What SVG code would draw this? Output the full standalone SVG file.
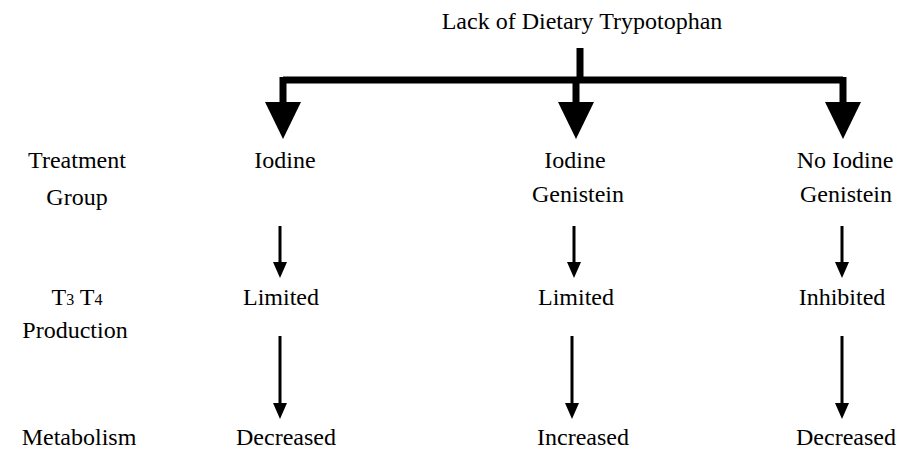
<svg xmlns="http://www.w3.org/2000/svg" width="910" height="450" viewBox="0 0 910 450">
<defs>
<style>
text{font-family:'Liberation Serif','DejaVu Serif',serif;font-size:24px;fill:#000;text-anchor:middle}
.thick{stroke:#000;stroke-width:7;fill:none}
.thin{stroke:#000;stroke-width:3;fill:none}
.head{fill:#000}
</style>
</defs>
<rect width="910" height="450" fill="#fff"/>
<g id="connectors">
<path class="thick" d="M580 48V80M283 80H843M283 77V106M576 80V106M843 77V106"/>
<polygon class="head" points="265,102 301,102 283,139"/>
<polygon class="head" points="558,102 594,102 576,139"/>
<polygon class="head" points="825,102 861,102 843,139"/>
<path class="thin" d="M280 226V264M574 226V264M842 226V264M280 336V406M572 336V406M842 336V406"/>
<polygon class="head" points="273,262 287,262 280,278"/>
<polygon class="head" points="567,262 581,262 574,278"/>
<polygon class="head" points="835,262 849,262 842,278"/>
<polygon class="head" points="273,403 287,403 280,419"/>
<polygon class="head" points="565,403 579,403 572,419"/>
<polygon class="head" points="835,403 849,403 842,419"/>
</g>
<g id="top"><text x="582" y="29">Lack of Dietary Trypotophan</text></g>
<g id="label-treatment"><text x="77" y="168">Treatment</text><text x="77" y="205">Group</text></g>
<g id="label-t3t4"><text x="77" y="305">T<tspan font-size="16">3</tspan> T<tspan font-size="16">4</tspan></text><text x="75" y="338">Production</text></g>
<g id="label-metabolism"><text x="79" y="445">Metabolism</text></g>
<g id="g1"><text x="285" y="168">Iodine</text></g>
<g id="g2"><text x="575" y="168">Iodine</text><text x="578" y="202">Genistein</text></g>
<g id="g3"><text x="845" y="168">No Iodine</text><text x="846" y="202">Genistein</text></g>
<g id="p1"><text x="281" y="305">Limited</text></g>
<g id="p2"><text x="576" y="305">Limited</text></g>
<g id="p3"><text x="842" y="305">Inhibited</text></g>
<g id="m1"><text x="286" y="445">Decreased</text></g>
<g id="m2"><text x="583" y="445">Increased</text></g>
<g id="m3"><text x="846" y="445">Decreased</text></g>
</svg>
